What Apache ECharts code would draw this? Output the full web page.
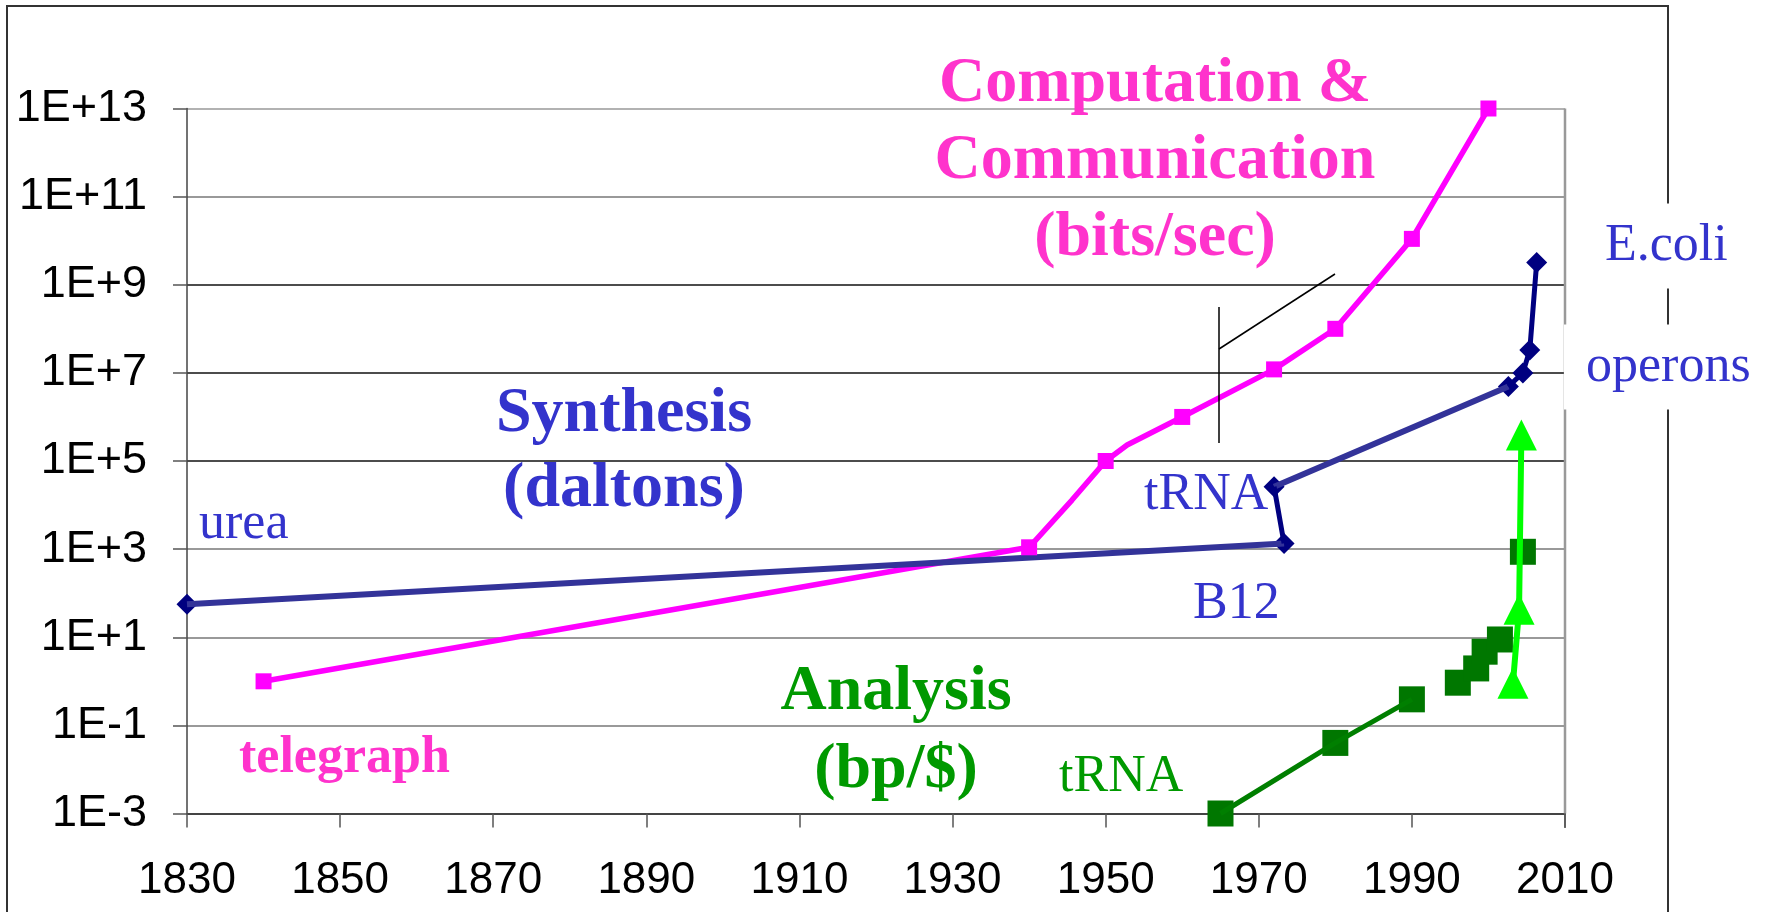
<!DOCTYPE html>
<html>
<head>
<meta charset="utf-8">
<script src="https://cdn.jsdelivr.net/npm/echarts@6/dist/echarts.min.js"></script>
<style>
  html, body { margin: 0; padding: 0; background: #ffffff; }
  #chart { width: 1768px; height: 912px; }
</style>
</head>
<body>
<div id="chart"></div>
<script>
// ---- data ----
const xTickYears = [1830, 1850, 1870, 1890, 1910, 1930, 1950, 1970, 1990, 2010];
const yTickExponents = [-3, -1, 1, 3, 5, 7, 9, 11, 13];
const yTickLabels = ['1E-3', '1E-1', '1E+1', '1E+3', '1E+5', '1E+7', '1E+9', '1E+11', '1E+13'];

// Computation & Communication (bits/sec)
const compYears  = [1840, 1940, 1945.6, 1950, 1952.8, 1960, 1972, 1980, 1990, 2000];
const compValues = [1, 1100, 1.3e4, 1e5, 2.3e5, 1e6, 1.2e7, 1e8, 1.1e10, 1e13];
const compMarked = [true, true, false, true, false, true, true, true, true, true];

// Synthesis (daltons): urea, B12, tRNA, operons ... E.coli
const synthYears  = [1830, 1973.3, 1972, 2002.6, 2004.5, 2005.4, 2006.3];
const synthValues = [56, 1350, 26000, 4.9e6, 1.0e7, 3.3e7, 3.2e9];

// Analysis (bp/$)
const analysisYears  = [1965, 1980, 1990, 1996, 1998.4, 1999.5, 2001.5, 2004.5];
const analysisValues = [1e-3, 0.04, 0.39, 0.93, 1.96, 4.7, 8.9, 870];
const analysisLinkedCount = 3;

// Analysis projection (light green arrows)
const projYears  = [2003.2, 2004, 2004.3];
const projValues = [0.9, 43, 3.9e5];

// ---- build ----
const lg = v => Math.log10(v);
const pt = (xs, vs, i) => [xs[i], lg(vs[i])];

const chart = echarts.init(document.getElementById('chart'), null, { renderer: 'canvas' });

const compData = compYears.map((x, i) => ({
  value: [x, lg(compValues[i])],
  symbol: compMarked[i] ? 'rect' : 'none'
}));

const synthLinkA = [pt(synthYears, synthValues, 0), pt(synthYears, synthValues, 1),
  [1972.6, '-'],
  pt(synthYears, synthValues, 2), pt(synthYears, synthValues, 3)];
const synthLinkB = [pt(synthYears, synthValues, 1), pt(synthYears, synthValues, 2),
  [2002.8, '-']].concat([3, 4, 5, 6].map(i => pt(synthYears, synthValues, i)));
const synthPoints = synthYears.map((x, i) => pt(synthYears, synthValues, i));

const analysisLine = analysisYears.slice(0, analysisLinkedCount).map((x, i) => pt(analysisYears, analysisValues, i));
const analysisPoints = analysisYears.map((x, i) => pt(analysisYears, analysisValues, i));
const projData = projYears.map((x, i) => pt(projYears, projValues, i));

const gridColors = ['#555555', '#777777', '#777777', '#777777', '#111111', '#111111', '#111111', '#777777', '#999999'];

const SERIF = '"Liberation Serif", "Times New Roman", serif';
const SANS = '"Liberation Sans", Arial, sans-serif';

const option = {
  animation: false,
  backgroundColor: '#ffffff',
  grid: { left: 187, right: 203, top: 108.5, bottom: 98.5, containLabel: false },
  xAxis: {
    type: 'value', min: 1830, max: 2010, interval: 20,
    axisLine: { show: true, onZero: false, lineStyle: { color: '#444', width: 2 } },
    axisTick: { show: true, inside: false, length: 14, lineStyle: { color: '#555', width: 1.5 } },
    axisLabel: { margin: 45, color: '#000', fontFamily: SANS, fontSize: 44, formatter: v => String(v) },
    splitLine: { show: false }
  },
  yAxis: {
    type: 'value', min: -3, max: 13, interval: 2,
    axisLine: { show: true, onZero: false, lineStyle: { color: '#444', width: 1.5 } },
    axisTick: { show: true, inside: false, length: 14, lineStyle: { color: '#555', width: 1.5 } },
    axisLabel: {
      margin: 40, color: '#000', fontFamily: SANS, fontSize: 45,
      formatter: v => { const k = yTickExponents.indexOf(Math.round(v)); return k >= 0 ? yTickLabels[k] : ''; }
    },
    splitLine: { show: true, lineStyle: { color: gridColors, width: 1.5 } }
  },
  series: [
    {
      name: 'Computation & Communication', type: 'line', data: compData, clip: false,
      symbolSize: 16, lineStyle: { color: '#FF00FF', width: 5.5 }, itemStyle: { color: '#FF00FF', opacity: 1 }
    },
    {
      name: 'Synthesis links', type: 'line', data: synthLinkA, clip: false, symbol: 'none',
      connectNulls: false, lineStyle: { color: '#333399', width: 6 }
    },
    {
      name: 'Synthesis steps', type: 'line', data: synthLinkB, clip: false, symbol: 'none',
      connectNulls: false, lineStyle: { color: '#000080', width: 5 }
    },
    {
      name: 'Synthesis', type: 'scatter', data: synthPoints, clip: false,
      symbol: 'diamond', symbolSize: 21, itemStyle: { color: '#000080', opacity: 1 }
    },
    {
      name: 'Analysis projection', type: 'line', data: projData, clip: false,
      symbol: 'triangle', symbolSize: 31, lineStyle: { color: '#00FF00', width: 6 },
      itemStyle: { color: '#00FF00', opacity: 1 }
    },
    {
      name: 'Analysis line', type: 'line', data: analysisLine, clip: false, symbol: 'none',
      lineStyle: { color: '#007F00', width: 5 }
    },
    {
      name: 'Analysis', type: 'scatter', data: analysisPoints, clip: false,
      symbol: 'rect', symbolSize: 26, itemStyle: { color: '#007700', opacity: 1 }
    }
  ],
  graphic: [
    { type: 'rect', silent: true, z: -10, shape: { x: 7, y: 6, width: 1661, height: 1000 },
      style: { fill: 'none', stroke: '#333', lineWidth: 2 } },
    { type: 'line', silent: true, z: 1, shape: { x1: 1565, y1: 108.5, x2: 1565, y2: 813.5 },
      style: { stroke: '#999', lineWidth: 2.5 } },
    { type: 'line', silent: true, z: 1, shape: { x1: 1565, y1: 813.5, x2: 1565, y2: 828 },
      style: { stroke: '#555', lineWidth: 1.5 } },
    { type: 'line', silent: true, z: 50, shape: { x1: 1219, y1: 307, x2: 1219, y2: 443 },
      style: { stroke: '#000', lineWidth: 1.5 } },
    { type: 'line', silent: true, z: 50, shape: { x1: 1219, y1: 349, x2: 1335, y2: 274 },
      style: { stroke: '#000', lineWidth: 1.5 } },
    { type: 'text', silent: true, z: 60, x: 1155, y: 46,
      style: { text: 'Computation &\nCommunication\n(bits/sec)', font: 'bold 64px ' + SERIF,
        fill: '#FF33CC', align: 'center', verticalAlign: 'top', lineHeight: 77 } },
    { type: 'text', silent: true, z: 60, x: 624, y: 377,
      style: { text: 'Synthesis\n(daltons)', font: 'bold 64px ' + SERIF,
        fill: '#3333CC', align: 'center', verticalAlign: 'top', lineHeight: 75 } },
    { type: 'text', silent: true, z: 60, x: 896, y: 653,
      style: { text: 'Analysis\n(bp/$)', font: 'bold 64px ' + SERIF,
        fill: '#009900', align: 'center', verticalAlign: 'top', lineHeight: 78 } },
    { type: 'text', silent: true, z: 60, x: 239, y: 759,
      style: { text: 'telegraph', font: 'bold 52px ' + SERIF, fill: '#FF33CC', align: 'left', verticalAlign: 'middle' } },
    { type: 'text', silent: true, z: 60, x: 199, y: 524,
      style: { text: 'urea', font: '52px ' + SERIF, fill: '#3333CC', align: 'left', verticalAlign: 'middle' } },
    { type: 'text', silent: true, z: 60, x: 1144, y: 495,
      style: { text: 'tRNA', font: '52px ' + SERIF, fill: '#3333CC', align: 'left', verticalAlign: 'middle' } },
    { type: 'text', silent: true, z: 60, x: 1193, y: 604,
      style: { text: 'B12', font: '52px ' + SERIF, fill: '#3333CC', align: 'left', verticalAlign: 'middle' } },
    { type: 'text', silent: true, z: 60, x: 1059, y: 777,
      style: { text: 'tRNA', font: '52px ' + SERIF, fill: '#009900', align: 'left', verticalAlign: 'middle' } },
    { type: 'text', silent: true, z: 60, x: 1575, y: 246,
      style: { text: 'E.coli', font: '52px ' + SERIF, fill: '#3333CC', align: 'left', verticalAlign: 'middle',
        backgroundColor: '#ffffff', padding: [16, 10, 17, 30] } },
    { type: 'text', silent: true, z: 60, x: 1564, y: 367,
      style: { text: 'operons', font: '52px ' + SERIF, fill: '#3333CC', align: 'left', verticalAlign: 'middle',
        backgroundColor: '#ffffff', padding: [16, 8, 17, 22] } }
  ]
};

chart.setOption(option);
</script>
</body>
</html>
